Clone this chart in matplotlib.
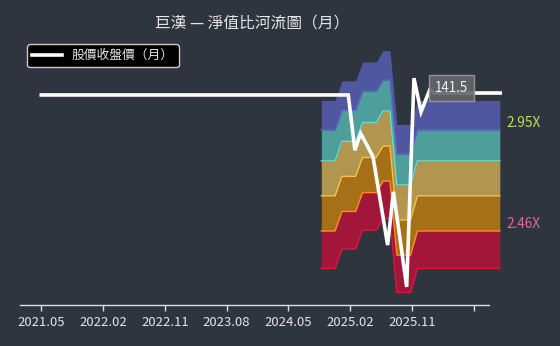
import matplotlib
matplotlib.use("Agg")
import matplotlib.pyplot as plt
import numpy as np

plt.rcParams['font.family'] = ['Noto Sans CJK TC', 'DejaVu Sans']

# ---------------- data ----------------
title = "巨漢 — 淨值比河流圖（月）"
legend_label = "股價收盤價（月）"

# monthly close price (flat fill before listing / after last close)
price_dates = ['2021-05-01', '2025-01-23', '2025-02-22', '2025-03-17', '2025-04-13',
               '2025-05-11', '2025-06-13', '2025-07-15', '2025-08-10', '2025-09-10',
               '2025-10-08', '2025-11-10', '2025-12-11', '2026-01-19', '2026-02-13',
               '2026-12-01']
price_values = [141.0, 141.0, 127.7, 131.6, 129.0,
                126.2, 116.6, 107.7, 118.5, 108.6,
                99.9, 145.3, 136.8, 142.3, 141.5,
                141.5]
last_close = 141.5
last_close_date = '2026-02-13'

# book value per share (monthly) for the P/B river
river_dates = ['2024-10', '2024-11', '2024-12', '2025-01', '2025-02', '2025-03',
               '2025-04', '2025-05', '2025-06', '2025-07', '2025-08', '2025-09',
               '2025-10', '2025-11', '2025-12', '2026-01', '2026-02', '2026-03',
               '2026-04', '2026-05', '2026-06', '2026-07', '2026-08', '2026-09',
               '2026-10', '2026-11', '2026-12']
bvps = [44.9, 44.9, 44.9, 46.5, 46.5, 46.5,
        48.1, 48.1, 48.1, 49.1, 49.1, 43.0,
        43.0, 43.0, 44.9, 44.9, 44.9, 44.9,
        44.9, 44.9, 44.9, 44.9, 44.9, 44.9,
        44.9, 44.9, 44.9]
pb_multiples = [2.30, 2.46, 2.62, 2.79, 2.95, 3.11]   # bottom -> top
label_multiples = [2.95, 2.46]

tick_dates = ['2021-05', '2022-02', '2022-11', '2023-08', '2024-05', '2025-02', '2025-11', '2026-08']
tick_labels = ['2021.05', '2022.02', '2022.11', '2023.08', '2024.05', '2025.02', '2025.11', '']

# ---------------- helpers ----------------
def month_num(s):
    parts = [int(p) for p in s.split('-')]
    y, m = parts[0], parts[1]
    d = parts[2] if len(parts) > 2 else 1
    return (y - 2021) * 12 + (m - 5) + (d - 1) / 30.44

# ---------------- style ----------------
BG = '#2f353e'
band_fill = ['#a2163a', '#a67018', '#b29650', '#4e9e9b', '#5056a0']
band_edge = ['#e3123f', '#ff8c1a', '#ffc040', '#62e0cc', '#5b68c9']
TXT = '#e6e6e6'

fig = plt.figure(figsize=(5.6, 3.46), dpi=100, facecolor=BG)
W, H = 560, 346
ax = fig.add_axes([20 / W, (H - 305) / H, (502 - 20) / W, (305 - 40) / H])
ax.set_facecolor(BG)

rx = np.array([month_num(d) for d in river_dates]) - 0.2
bv = np.array(bvps)
levels = [bv * m for m in pb_multiples]

for i in range(len(pb_multiples) - 1):
    ax.fill_between(rx, levels[i], levels[i + 1], color=band_fill[i], lw=0, zorder=2)
for i in range(len(pb_multiples) - 1):
    ax.plot(rx, levels[i], color=band_edge[i], lw=1.0, zorder=3)

px = np.array([month_num(d) for d in price_dates])
ax.plot(px, price_values, color='white', lw=2.6, zorder=5, solid_joinstyle='miter',
        label=legend_label)

ax.set_yscale('log')
ax.set_ylim(96.71, 155.62)
ax.set_xlim(-3.1, 67.12)
ax.yaxis.set_visible(False)
ax.yaxis.set_minor_locator(matplotlib.ticker.NullLocator())

for s in ['top', 'right', 'left']:
    ax.spines[s].set_visible(False)
ax.spines['bottom'].set_color('#dddddd')
ax.spines['bottom'].set_linewidth(1.0)
ax.spines['bottom'].set_bounds(-3.1, 65.27)

ax.set_xticks([month_num(d) for d in tick_dates])
ax.set_xticklabels(tick_labels)
ax.tick_params(axis='x', colors='#dddddd', labelcolor=TXT, length=4, width=1,
               labelsize=9.4, pad=4)

# last close annotation
ax.annotate(f"{last_close:.1f}", xy=(month_num(last_close_date), last_close),
            xytext=(16, 5), textcoords='offset pixels', ha='center', va='center',
            fontsize=9.6, color='#f0f0f0', zorder=6,
            bbox=dict(boxstyle='square,pad=0.45', facecolor='#63676b', edgecolor='#9a9a9a',
                      lw=1, alpha=0.9))

# multiple labels at right end
label_colors = {2.95: '#c0e060', 2.46: '#e2679b'}
for m in label_multiples:
    ax.annotate(f"{m:.2f}X", xy=(rx[-1] + 0.2, bv[-1] * m), xytext=(5, 7),
                textcoords='offset pixels', ha='left', va='center',
                fontsize=9.8, color=label_colors[m], annotation_clip=False)

fig.text(252 / W, 1 - 23 / H, title, ha='center', va='center', fontsize=11.3, color=TXT)

leg = ax.legend(loc='upper left', bbox_to_anchor=(27 / W, 1 - 44 / H),
                bbox_transform=fig.transFigure, frameon=True, fancybox=True,
                facecolor='black', edgecolor='#cccccc', framealpha=1.0,
                fontsize=9.2, handlelength=2.3, handletextpad=0.8, borderpad=0.4,
                borderaxespad=0)
for t in leg.get_texts():
    t.set_color(TXT)
leg.get_frame().set_linewidth(1.0)

fig.savefig('out.png', dpi=100, facecolor=BG)
